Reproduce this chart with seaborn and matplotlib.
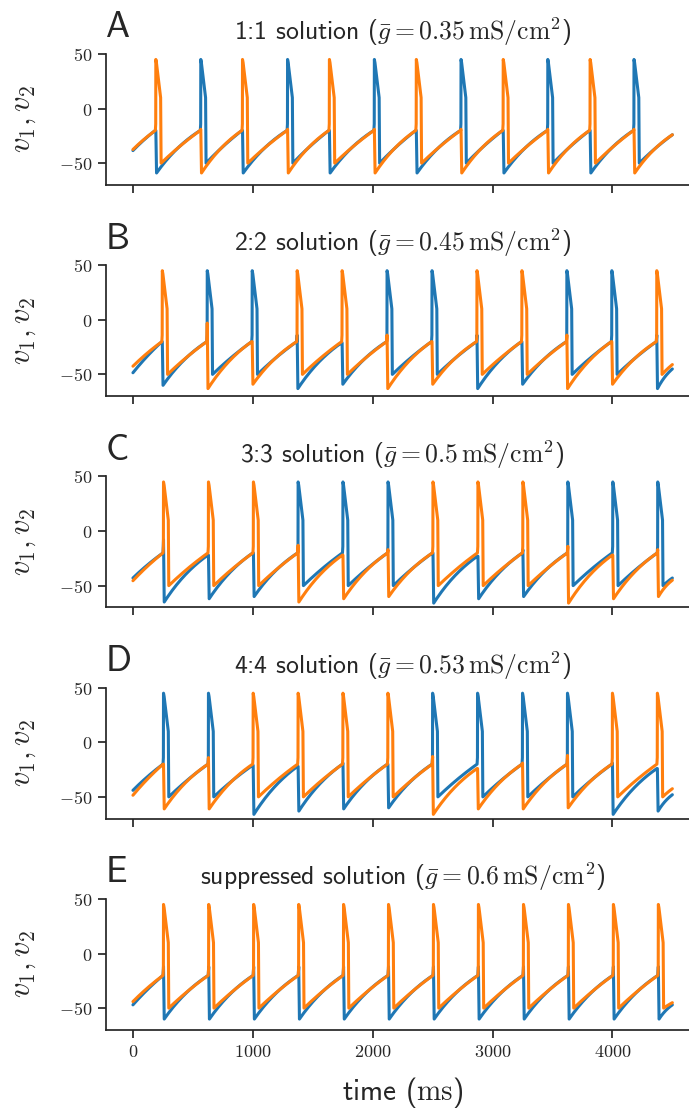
import numpy as np
import pandas as pd
import matplotlib
matplotlib.use("Agg")
import matplotlib.pyplot as plt
import seaborn as sns

## Values (times in ms, voltages in mV)
# who spikes at each event: B = neuron 1 (blue), O = neuron 2 (orange)
# pre = level of the silent neuron at the event, trough = where it is pushed down to
times_A = [191, 566, 914, 1290, 1639, 2014, 2364, 2737, 3089, 3461, 3814, 4180]
who_A = "OBOBOBOBOBOB"
pre_A = [-20, -19, -20, -19, -20, -19, -20, -19, -20, -19, -20, -19]
trough_A = [-59, -59, -59, -59, -59, -59, -59, -59, -59, -59, -59, -59]
start_A = [-38.5, -37.5]
end_A = [-24, -24]

times_B = [245, 620, 995, 1370, 1745, 2120, 2495, 2870, 3245, 3620, 3995, 4370]
who_B = "OBBOOBBOOBBO"
pre_B = [-20, -3, -20, -14, -21, -14, -20, -14, -20, -14, -20, -14]
trough_B = [-60, -63, -59, -63, -59, -63, -59, -63, -59, -63, -59, -63]
start_B = [-48.5, -42.5]
end_B = [-45, -41]

times_C = [255, 630, 1005, 1378, 1752, 2128, 2503, 2878, 3253, 3628, 4003, 4378]
who_C = "OOOBBBOOOBBB"
pre_C = [-8, -22, -20, -13, -22, -17, -20, -23, -17, -14, -22, -17]
trough_C = [-65, -62, -60, -65, -62, -60, -66, -62, -60, -66, -62, -60]
start_C = [-43, -45.5]
end_C = [-43, -45]

times_D = [255, 630, 1003, 1378, 1752, 2127, 2500, 2875, 3250, 3625, 4000, 4375]
who_D = "BBOOOOBBBBOO"
pre_D = [-20, -14, -21, -22, -19, -20, -13, -24, -19, -12, -19, -24]
trough_D = [-61, -61, -66, -63, -61, -60, -66, -61, -61, -60, -66, -63]
start_D = [-44, -48.5]
end_D = [-48, -42.5]

times_E = [255, 632, 1007, 1383, 1757, 2132, 2507, 2882, 3258, 3633, 4008, 4383]
who_E = "OOOOOOOOOOOO"
pre_E = [-12, -12, -12, -12, -12, -12, -12, -12, -12, -12, -12, -12]
trough_E = [-60, -60, -60, -60, -60, -60, -60, -60, -60, -60, -60, -60]
start_E = [-47, -44]
end_E = [-47, -45]

letters = ["A", "B", "C", "D", "E"]
titles = [r"1:1 solution ($\bar{g} = 0.35\,\mathrm{mS/cm^2}$)",
          r"2:2 solution ($\bar{g} = 0.45\,\mathrm{mS/cm^2}$)",
          r"3:3 solution ($\bar{g} = 0.5\,\mathrm{mS/cm^2}$)",
          r"4:4 solution ($\bar{g} = 0.53\,\mathrm{mS/cm^2}$)",
          r"suppressed solution ($\bar{g} = 0.6\,\mathrm{mS/cm^2}$)"]

# spike waveform levels
T_END = 4500
V_PEAK, V_SHOULDER, V_THRESH, V_RESET = 45, 10, -20, -50
K_SPIKER, K_SILENT = 0.3, 0.8


def ramp(t0, v0, t1, v1, k, n=40):
    s = np.linspace(0, 1, n)
    f = (1 - np.exp(-k * s)) / (1 - np.exp(-k))
    return list(t0 + s * (t1 - t0)), list(v0 + (v1 - v0) * f)


def build(me, times, who, pre, trough, v_start, v_end):
    tt, vv = [], []
    t_last, v_last, k = 0.0, v_start, K_SPIKER
    for tk, w, p, lo in zip(times, who, pre, trough):
        top = V_THRESH if w == me else min(p, V_THRESH)
        rt, rv = ramp(t_last, v_last, tk - 4, top, k)
        tt += rt
        vv += rv
        if w == me:
            tt += [tk - 1, tk, tk + 5, tk + 40, tk + 44]
            vv += [-14, V_PEAK, V_PEAK - 3, V_SHOULDER, V_RESET]
            t_last, v_last, k = tk + 44, V_RESET, K_SPIKER
        else:
            tt += [tk, tk + 6]
            vv += [p, lo]
            t_last, v_last, k = tk + 6, lo, K_SILENT
    rt, rv = ramp(t_last, v_last, T_END, v_end, k)
    return tt + rt, vv + rv


panels = [(times_A, who_A, pre_A, trough_A, start_A, end_A),
          (times_B, who_B, pre_B, trough_B, start_B, end_B),
          (times_C, who_C, pre_C, trough_C, start_C, end_C),
          (times_D, who_D, pre_D, trough_D, start_D, end_D),
          (times_E, who_E, pre_E, trough_E, start_E, end_E)]

sns.set_theme(style="ticks", context="notebook")
plt.rcParams["mathtext.fontset"] = "cm"

fig = plt.figure(figsize=(6.89, 11.13), dpi=100)
axes = fig.subplots(5, 1, sharex=True)
fig.subplots_adjust(left=0.1538, right=1.015, top=0.9515, bottom=0.0746, hspace=0.6126)

palette = {"v1": "#1f77b4", "v2": "#ff7f0e"}

for ax, (times, who, pre, trough, v0, v1), title, letter in zip(axes, panels, titles, letters):
    parts = []
    for i, (name, code) in enumerate([("v1", "B"), ("v2", "O")]):
        t, v = build(code, times, who, pre, trough, v0[i], v1[i])
        parts.append(pd.DataFrame({"time": t, "v": v, "neuron": name}))
    df = pd.concat(parts, ignore_index=True)
    sns.lineplot(data=df, x="time", y="v", hue="neuron", hue_order=["v1", "v2"],
                 palette=palette, estimator=None, sort=False, legend=False,
                 linewidth=2.2, ax=ax)

    ax.set_ylim(-70, 50)
    ax.set_yticks([-50, 0, 50], labels=[r"$-50$", r"$0$", r"$50$"])
    ax.set_ylabel(r"$v_1, v_2$", fontsize=22)
    ax.yaxis.set_label_coords(-0.115, 0.5)
    ax.set_xlabel("")
    ax.set_title(title, fontfamily="cmss10", fontsize=18.5, pad=10)
    ax.text(0.0, 1.2, letter, transform=ax.transAxes, ha="left", va="center",
            fontfamily="cmss10", fontsize=26)
    ax.tick_params(labelsize=13)
    sns.despine(ax=ax)

axes[-1].set_xlim(-225, 4725)
axes[-1].set_xticks([0, 1000, 2000, 3000, 4000],
                    labels=[r"$0$", r"$1000$", r"$2000$", r"$3000$", r"$4000$"])
axes[-1].set_xlabel(r"time ($\mathrm{ms}$)", fontfamily="cmss10", fontsize=21, labelpad=10)

fig.savefig("out.png", dpi=100)
